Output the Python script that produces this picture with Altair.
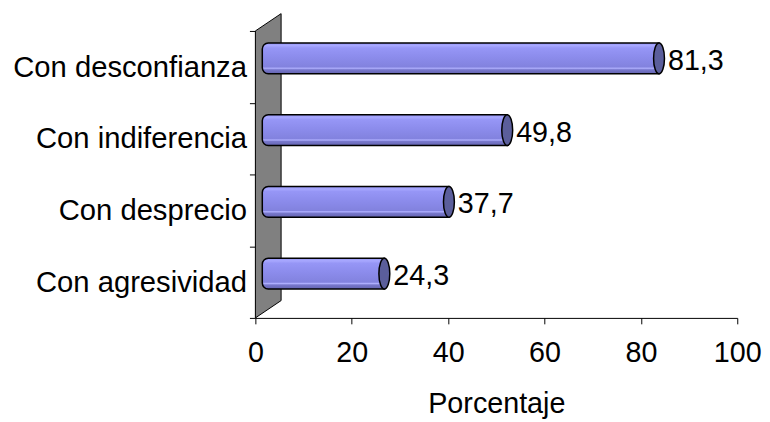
import altair as alt
import pandas as pd

# ---- data ----
categories = ["Con desconfianza", "Con indiferencia", "Con desprecio", "Con agresividad"]
values = [81.3, 49.8, 37.7, 24.3]
x_ticks = [0, 20, 40, 60, 80, 100]
y_bounds = [0, 1, 2, 3, 4]

# ---- style constants ----
FONT = "Liberation Sans"
FS = 29
W, H = 487, 290
PX_PER_X = W / 100.0
PX_PER_Y = H / 4.0
DEPTH_PX, DEPTH_PY = 26, 17.5      # 3-D wall depth in pixels
BAR_DX, BAR_DY = 12, -8.5          # bars drawn at mid depth
BAR_H = 31

labels = [f"{v:.1f}".replace(".", ",") for v in values]
df = pd.DataFrame({"cat": categories, "val": values, "lab": labels})

# wall (parallelogram) derived from the depth constants
wd = DEPTH_PX / PX_PER_X
hd = DEPTH_PY / PX_PER_Y
wall = pd.DataFrame({
    "x": [0, wd],
    "y": [y_bounds[0], y_bounds[0] + hd],
    "y2": [y_bounds[-1], y_bounds[-1] + hd],
})

xscale = alt.Scale(domain=[0, 100], nice=False, zero=True)
xaxis = alt.Axis(values=x_ticks, title="Porcentaje", grid=False, tickSize=6,
                 labelPadding=15, labelFontSize=FS, titleFontSize=FS,
                 labelFlush=False, labelOverlap=False,
                 titleFontWeight="normal", titleY=96, titleBaseline="alphabetic",
                 domainColor="black", tickColor="black", labelColor="black",
                 titleColor="black", labelFont=FONT, titleFont=FONT)

wall_layer = alt.Chart(wall).mark_area(
    color="#808080", stroke="black", strokeWidth=1, opacity=1
).encode(
    x=alt.X("x:Q", scale=xscale, axis=xaxis),
    y=alt.Y("y:Q", scale=alt.Scale(domain=[0, 4], nice=False, zero=False),
            axis=alt.Axis(orient="left", values=y_bounds, labels=False, tickSize=6,
                          title=None, grid=False, domainColor="black",
                          tickColor="black")),
    y2="y2:Q",
)

ycat = alt.Y("cat:N", sort=categories,
             scale=alt.Scale(paddingInner=0, paddingOuter=0),
             axis=alt.Axis(orient="left", ticks=False, tickSize=0, domain=False,
                           labelPadding=9, labelFontSize=29.5, labelFont=FONT,
                           labelColor="black", labelOffset=1, title=None,
                           labelLimit=400))

grad = alt.Gradient(
    gradient="linear", x1=0, y1=0, x2=0, y2=1,
    stops=[
        alt.GradientStop(offset=0.0, color="#9494f4"),
        alt.GradientStop(offset=0.08, color="#a8a8ff"),
        alt.GradientStop(offset=0.16, color="#9696f6"),
        alt.GradientStop(offset=0.45, color="#8c8cec"),
        alt.GradientStop(offset=0.78, color="#8282de"),
        alt.GradientStop(offset=0.82, color="#b0b0ff"),
        alt.GradientStop(offset=0.87, color="#7878cc"),
        alt.GradientStop(offset=1.0, color="#6464b0"),
    ],
)

base = alt.Chart(df)

body = base.mark_bar(
    size=BAR_H, fill=grad, stroke="black", strokeWidth=1.5,
    xOffset=BAR_DX, x2Offset=7, yOffset=BAR_DY,
    cornerRadiusTopLeft=6, cornerRadiusBottomLeft=6,
).encode(
    x=alt.X("val:Q", scale=xscale, axis=xaxis),
    x2=alt.datum(0),
    y=ycat,
)

rx = 5.5 / (BAR_H / 2)
cap_path = f"M0,-1 A{rx:.3f},1 0 1 1 0,1 A{rx:.3f},1 0 1 1 0,-1 Z"
cap = base.mark_point(
    shape=cap_path, size=BAR_H * BAR_H, filled=True, fill="#5b5e9b",
    stroke="black", strokeWidth=1.5, opacity=1,
    xOffset=BAR_DX, yOffset=BAR_DY,
).encode(
    x=alt.X("val:Q", scale=xscale),
    y=ycat,
)

text = base.mark_text(
    align="left", baseline="alphabetic", dx=21, dy=3,
    fontSize=FS, font=FONT, color="black",
).encode(
    x=alt.X("val:Q", scale=xscale),
    y=ycat,
    text="lab:N",
)

bars = alt.layer(body, cap, text)

chart = alt.layer(wall_layer, bars).resolve_scale(y="independent").properties(
    width=W, height=H,
    autosize=alt.AutoSizeParams(type="none"),
    padding={"left": 250, "top": 21, "right": 25, "bottom": 103},
    background="white",
).configure_view(stroke=None)

chart.save("out.html", embed_options={"renderer": "svg", "actions": False})
